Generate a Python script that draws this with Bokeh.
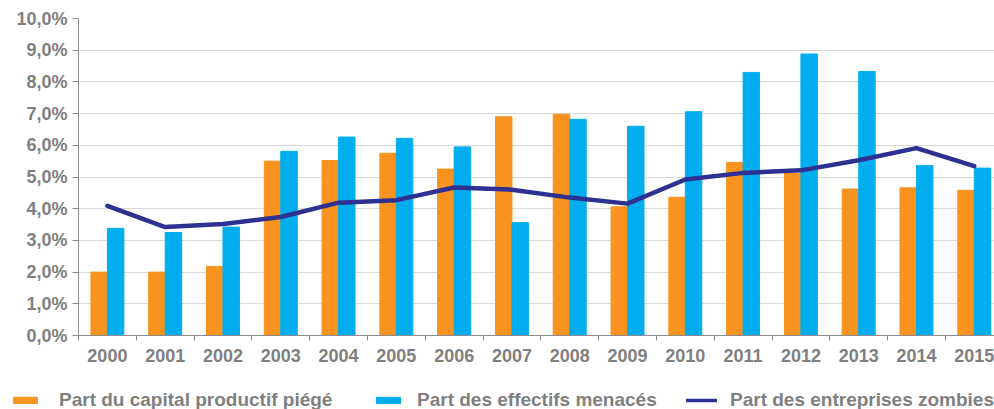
from bokeh.plotting import figure
from bokeh.models import (Range1d, FixedTicker, Legend, LegendItem, ColumnDataSource)
from bokeh.layouts import column
from bokeh.embed import file_html
from bokeh.resources import INLINE

# ---- data ----
years = ["2000", "2001", "2002", "2003", "2004", "2005", "2006", "2007",
         "2008", "2009", "2010", "2011", "2012", "2013", "2014", "2015"]
capital = [2.00, 2.00, 2.18, 5.50, 5.52, 5.75, 5.25, 6.90,
           6.98, 4.06, 4.36, 5.46, 5.11, 4.62, 4.66, 4.58]
effectifs = [3.38, 3.25, 3.42, 5.81, 6.26, 6.22, 5.95, 3.56,
             6.82, 6.60, 7.06, 8.30, 8.88, 8.33, 5.36, 5.28]
zombies = [4.09, 3.42, 3.52, 3.74, 4.19, 4.27, 4.67, 4.60,
           4.35, 4.16, 4.92, 5.13, 5.21, 5.53, 5.91, 5.34]
y_ticks = [0, 1, 2, 3, 4, 5, 6, 7, 8, 9, 10]
y_tick_labels = ["0,0%", "1,0%", "2,0%", "3,0%", "4,0%", "5,0%",
                 "6,0%", "7,0%", "8,0%", "9,0%", "10,0%"]
series_names = ["Part du capital productif piégé",
                "Part des effectifs menacés",
                "Part des entreprises zombies"]

ORANGE = "#F7931E"
BLUE = "#00AEEF"
NAVY = "#2E3192"
GREY = "#808080"
AXIS = "#8C8C8C"
FONT = "Liberation Sans"

n = len(years)
centers = [i + 0.5 for i in range(n)]
bounds = list(range(n + 1))
bw = 0.285
src = ColumnDataSource(dict(
    xc=centers,
    xo=[c - bw / 2 for c in centers],
    xb=[c + bw / 2 for c in centers],
    capital=capital, effectifs=effectifs, zombies=zombies))

p = figure(width=994, height=378, output_backend="svg", toolbar_location=None,
           x_range=Range1d(0, 15.85), y_range=Range1d(0, 10),
           min_border_left=78, min_border_right=0, min_border_top=18,
           min_border_bottom=43, frame_align=False)
p.outline_line_color = None
p.background_fill_color = "white"
p.border_fill_color = "white"

r_cap = p.vbar(x="xo", top="capital", width=bw, source=src, color=ORANGE)
r_eff = p.vbar(x="xb", top="effectifs", width=bw, source=src, color=BLUE)
r_zom = p.line(x="xc", y="zombies", source=src, color=NAVY, line_width=4.5,
               line_join="round", line_cap="round")

# x axis
p.xaxis.ticker = FixedTicker(ticks=centers, minor_ticks=bounds)
p.xaxis.major_label_overrides = {c: y for c, y in zip(centers, years)}
p.xaxis.major_tick_out = 0
p.xaxis.major_tick_in = 0
p.xaxis.minor_tick_out = 5
p.xaxis.minor_tick_in = 0
p.xaxis.minor_tick_line_color = AXIS
p.xaxis.axis_line_color = AXIS
p.xaxis.major_label_standoff = 8
p.xaxis.major_label_text_font = FONT
p.xaxis.major_label_text_font_style = "bold"
p.xaxis.major_label_text_font_size = "18px"
p.xaxis.major_label_text_color = GREY

# y axis
p.yaxis.ticker = FixedTicker(ticks=y_ticks, minor_ticks=[])
p.yaxis.major_label_overrides = {t: l for t, l in zip(y_ticks, y_tick_labels)}
p.yaxis.major_tick_out = 6
p.yaxis.major_tick_in = 0
p.yaxis.major_tick_line_color = AXIS
p.yaxis.axis_line_color = AXIS
p.yaxis.major_label_standoff = 5
p.yaxis.major_label_text_font = FONT
p.yaxis.major_label_text_font_style = "bold"
p.yaxis.major_label_text_font_size = "18px"
p.yaxis.major_label_text_color = GREY

p.xgrid.grid_line_color = None
p.ygrid.ticker = FixedTicker(ticks=y_ticks)
p.ygrid.grid_line_color = "#D9D9D9"
p.ygrid.grid_line_width = 1

# ---- legend strip ----
lg = figure(width=994, height=31, output_backend="svg", toolbar_location=None,
            x_range=Range1d(0, 1), y_range=Range1d(0, 1),
            x_axis_type=None, y_axis_type=None,
            min_border=0, frame_align=False)
lg.outline_line_color = None
lg.xgrid.visible = False
lg.ygrid.visible = False
# renderers kept outside the visible range; they only supply legend swatches
e_cap = lg.vbar(x=[-5], top=[-5], width=0.1, color=ORANGE)
e_eff = lg.vbar(x=[-5], top=[-5], width=0.1, color=BLUE)
e_zom = lg.line(x=[-5, -4], y=[-5, -5], color=NAVY, line_width=3.5, line_cap="round")

specs = [(e_cap, series_names[0], 10, 30, 19),
         (e_eff, series_names[1], 373, 30, 14),
         (e_zom, series_names[2], 686, 31, 13)]
for r, name, x0, gw, so in specs:
    leg = Legend(items=[LegendItem(label=name, renderers=[r])],
                 location=(x0, -2), orientation="horizontal",
                 glyph_width=gw, glyph_height=8, label_height=8,
                 label_standoff=so, padding=0, margin=0, spacing=0,
                 border_line_color=None, background_fill_alpha=0,
                 label_text_font=FONT, label_text_font_style="bold",
                 label_text_font_size="19px", label_text_color=GREY)
    lg.add_layout(leg, "center")

layout = column(p, lg, spacing=0)
open("out.html", "w").write(file_html(layout, INLINE))
